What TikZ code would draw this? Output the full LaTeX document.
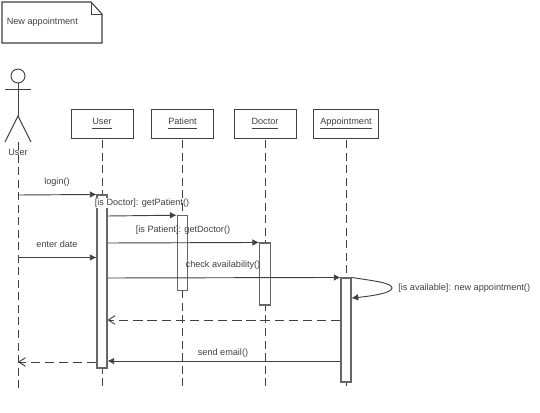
\documentclass[tikz,border=0pt]{standalone}
\usepackage{fontspec}
\setmainfont{Liberation Sans}
\usetikzlibrary{arrows.meta}
\definecolor{ink}{gray}{0.25}
\newcommand{\objlabel}[1]{\underline{#1\vphantom{p}}}
\tikzset{
  x=0.75pt,y=-0.75pt,
  every node/.style={font=\fontsize{6.85}{8}\selectfont,text=ink,inner sep=0pt},
  objbox/.style={draw=ink,line width=0.75pt,fill=white,minimum width=46.5pt,minimum height=21.75pt},
  lifeline/.style={draw=ink,line width=0.7pt,dash pattern=on 6pt off 3.4pt},
  activation/.style={draw=ink!80,line width=0.8pt,fill=white,minimum width=7.5pt,inner sep=0pt},
  figure/.style={draw=ink,line width=0.7pt},
  call/.style={draw=ink,line width=0.7pt,-{Latex[length=5pt,width=5pt]}},
  reply/.style={draw=ink,line width=0.7pt,dash pattern=on 7pt off 3.6pt,-{Straight Barb[length=5pt,width=6.5pt]}},
}
\begin{document}
\begin{tikzpicture}
\useasboundingbox (0,0) rectangle (540,412);
\fill[white] (0,0) rectangle (540,412);
% note
\draw[figure,line width=0.8pt] (2,2) -- (91,2) -- (102,14) -- (102,43) -- (2,43) -- cycle;
\draw[figure] (91,2) -- (91,14) -- (102,14);
\node[anchor=west] (note) at (6.5,22.5) {New appointment};
% actor
\node[draw=ink,line width=0.7pt,circle,minimum size=10.5pt] (head) at (18,76) {};
\coordinate (hip) at (18,116);
\coordinate (armL) at (5,89);
\coordinate (armR) at (31,89);
\coordinate (legL) at (5,142);
\coordinate (legR) at (31,142);
\draw[figure] (head.south) -- (hip);
\draw[figure] (armL) -- (armR);
\draw[figure] (legL) -- (hip) -- (legR);
% objects
\node[objbox] (u) at (102,123.5) {\objlabel{User}};
\node[objbox] (p) at (182.5,123.5) {\objlabel{Patient}};
\node[objbox] (d) at (265,123.5) {\objlabel{Doctor}};
\node[objbox,minimum width=48.5pt] (a) at (346,123.5) {\objlabel{Appointment}};
% lifeline ends
\coordinate (actorTop) at (18,142);
\coordinate (actorEnd) at (18,390);
\coordinate (uEnd) at (102,390);
\coordinate (pEnd) at (182.5,390);
\coordinate (dEnd) at (265,390);
\coordinate (aEnd) at (346,390);
\draw[lifeline] (actorTop) -- (actorEnd);
\draw[lifeline] (102,140) -- (uEnd);
\draw[lifeline] (182.5,140) -- (pEnd);
\draw[lifeline] (265,140) -- (dEnd);
\draw[lifeline] (346,140) -- (aEnd);
% activations
\node[activation,minimum height=129.75pt] (ua) at (102,281.5) {};
\node[activation,minimum height=55.9pt,minimum width=8pt] (pa) at (182.5,253) {};
\node[activation,minimum height=46.5pt,minimum width=8pt] (da) at (265,274) {};
\node[activation,minimum height=78pt] (aa) at (346,330) {};
% the label's white ground hides the activation edges behind its text
\fill[white] (94,197.5) rectangle (110,208);
% labels
\node (actorname) at (18,152) {User};
\node (l1) at (57,182) {login()};
\node (l2) at (142,203) {[is Doctor]: getPatient()};
\node (l3) at (183,230) {[is Patient]: getDoctor()};
\node (l4) at (57,244) {enter date};
\node (l5) at (223,265) {check availability()};
\node[anchor=west] (l6) at (398,288) {[is available]: new appointment()};
\node (l7) at (223,353) {send email()};
% messages
\draw[call] (18,195) -- (ua.north west);
\draw[call] (ua.east |- 0,216) -- (pa.north west);
\draw[call] (ua.east |- 0,243) -- (da.north west);
\draw[call] (18,257.5) -- (ua.west |- 0,257.5);
\draw[call] (ua.east |- 0,278) -- (aa.north west);
\draw[call] (aa.north east) .. controls (375,281) and (392,283) .. (392,288) .. controls (392,293) and (372,296) .. (aa.east |- 0,298);
\draw[reply] (aa.west |- 0,320) -- (ua.east |- 0,320);
\draw[call] (aa.west |- 0,361) -- (ua.east |- 0,361);
\draw[reply] (ua.west |- 0,362) -- (18,362);
\end{tikzpicture}
\end{document}
